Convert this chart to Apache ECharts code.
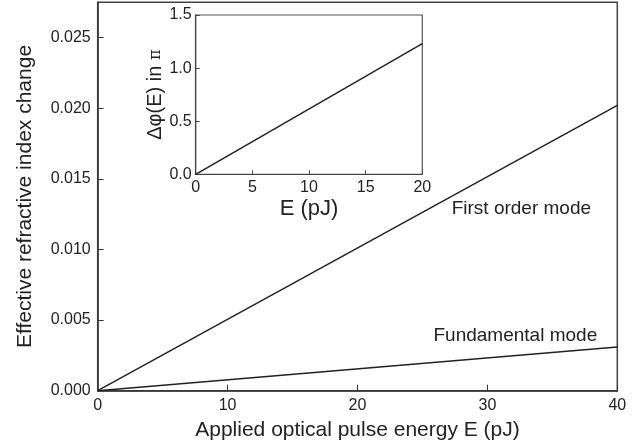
<!DOCTYPE html>
<html>
<head>
<meta charset="utf-8">
<script src="https://cdn.jsdelivr.net/npm/echarts@6/dist/echarts.min.js"></script>
<style>html,body{margin:0;padding:0;background:#fff}#c{width:643px;height:446px}</style>
</head>
<body>
<div id="c"></div>
<script>
// Main chart data
const energy = [0, 40];
const firstOrder = [0, 0.0202];
const fundamental = [0, 0.0031];
// Inset data
const insetEnergy = [0, 20];
const insetPhase = [0, 1.23];
// Tick settings
const mainXTicks = [0, 10, 20, 30, 40];
const mainYTicks = [0, 0.005, 0.010, 0.015, 0.020, 0.025];
const insetXTicks = [0, 5, 10, 15, 20];
const insetYTicks = [0, 0.5, 1.0, 1.5];

const FONT = '"Liberation Sans", Arial, sans-serif';
const TXT = '#222';
const chart = echarts.init(document.getElementById('c'));

const pairs = (xs, ys) => xs.map((x, i) => [x, ys[i]]);

chart.setOption({
  animation: false,
  backgroundColor: '#fff',
  textStyle: { fontFamily: FONT },
  grid: [
    { left: 97.7, right: 25.7, top: 2.3, bottom: 55.3, show: true, borderColor: '#444', borderWidth: 1.5, containLabel: false },
    { left: 195.7, right: 220.7, top: 15, bottom: 271.7, show: true, borderColor: '#555', borderWidth: 1.2, backgroundColor: '#fff', containLabel: false, z: 5 }
  ],
  xAxis: [
    {
      gridIndex: 0, type: 'value', min: 0, max: 40, interval: 10,
      name: 'Applied optical pulse energy E (pJ)', nameLocation: 'middle', nameGap: 29,
      nameTextStyle: { fontSize: 21, color: TXT, fontFamily: FONT },
      axisLine: { show: true, lineStyle: { color: '#333', width: 1.5 } },
      axisTick: { show: true, inside: true, length: 6, lineStyle: { color: '#333' } },
      axisLabel: { fontSize: 16, color: TXT, margin: 7, fontFamily: FONT },
      splitLine: { show: false }
    },
    {
      gridIndex: 1, type: 'value', min: 0, max: 20, interval: 5,
      name: 'E (pJ)', nameLocation: 'middle', nameGap: 24,
      nameTextStyle: { fontSize: 22, color: TXT, fontFamily: FONT },
      axisLine: { show: true, lineStyle: { color: '#444', width: 1.2 } },
      axisTick: { show: true, inside: true, length: 4, lineStyle: { color: '#444' } },
      axisLabel: { fontSize: 16, color: TXT, margin: 5, fontFamily: FONT },
      splitLine: { show: false }, z: 6
    }
  ],
  yAxis: [
    {
      gridIndex: 0, type: 'value', min: 0, max: 0.0275, interval: 0.005,
      name: 'Effective refractive index change', nameLocation: 'middle', nameGap: 62, nameRotate: 90,
      nameTextStyle: { fontSize: 21, color: TXT, fontFamily: FONT },
      axisLine: { show: true, lineStyle: { color: '#333', width: 1.5 } },
      axisTick: { show: true, inside: true, length: 6, lineStyle: { color: '#333' } },
      axisLabel: {
        fontSize: 16, color: TXT, margin: 7, fontFamily: FONT, showMaxLabel: false,
        formatter: v => mainYTicks.some(t => Math.abs(t - v) < 1e-9) ? v.toFixed(3) : ''
      },
      splitLine: { show: false }
    },
    {
      gridIndex: 1, type: 'value', min: 0, max: 1.5, interval: 0.5,
      name: 'Δφ(E) in {p|π}', nameLocation: 'middle', nameGap: 30, nameRotate: 90,
      nameTextStyle: { fontSize: 20, color: TXT, fontFamily: FONT, rich: { p: { fontSize: 16, fontFamily: '"DejaVu Serif", serif', color: TXT } } },
      axisLine: { show: true, lineStyle: { color: '#444', width: 1.2 } },
      axisTick: { show: true, inside: true, length: 4, lineStyle: { color: '#444' } },
      axisLabel: { fontSize: 16, color: TXT, margin: 4, fontFamily: FONT, formatter: v => v.toFixed(1) },
      splitLine: { show: false }, z: 6
    }
  ],
  series: [
    { type: 'line', xAxisIndex: 0, yAxisIndex: 0, data: pairs(energy, firstOrder), showSymbol: false, lineStyle: { color: '#222', width: 1.5 }, z: 2 },
    { type: 'line', xAxisIndex: 0, yAxisIndex: 0, data: pairs(energy, fundamental), showSymbol: false, lineStyle: { color: '#222', width: 1.5 }, z: 2 },
    { type: 'line', xAxisIndex: 1, yAxisIndex: 1, data: pairs(insetEnergy, insetPhase), showSymbol: false, lineStyle: { color: '#222', width: 1.5 }, z: 7 }
  ]
});

// Annotation labels placed at data coordinates
const notes = [
  { text: 'First order mode', at: [27.25, 0.01285] },
  { text: 'Fundamental mode', at: [25.85, 0.00387] }
];
chart.setOption({
  graphic: notes.map(n => {
    const p = chart.convertToPixel({ gridIndex: 0 }, n.at);
    return {
      type: 'text', x: p[0], y: p[1], z: 10,
      style: { text: n.text, fontSize: 19, fontFamily: FONT, fill: TXT, textVerticalAlign: 'middle', verticalAlign: 'middle' }
    };
  })
});
</script>
</body>
</html>
